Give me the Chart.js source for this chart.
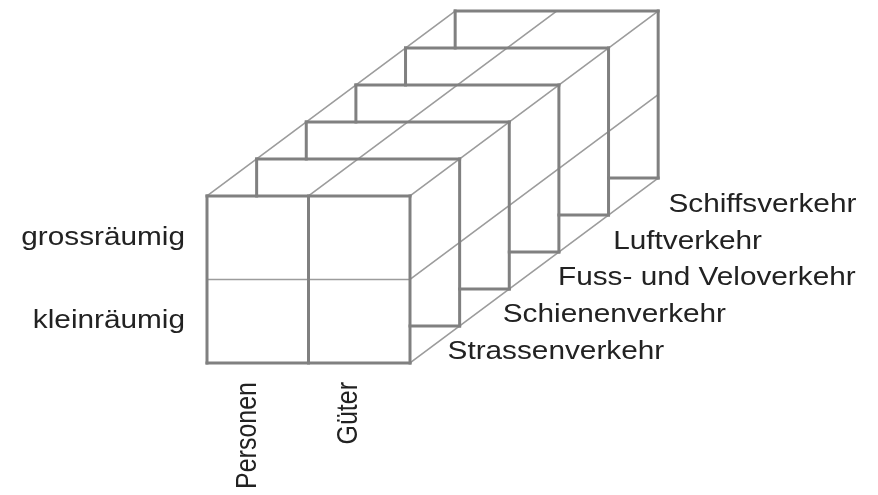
<!DOCTYPE html>
<html>
<head>
<meta charset="utf-8">
<script src="https://cdn.jsdelivr.net/npm/chart.js@4"></script>
<style>
  html, body { margin: 0; padding: 0; background: #ffffff; }
  #wrap { width: 878px; height: 495px; }
</style>
</head>
<body>
<div id="wrap"><canvas id="c" width="878" height="495"></canvas></div>
<script>
// ---- data (the three dimensions of the cube) ----
const rowLabels   = ['grossräumig', 'kleinräumig'];
const colLabels   = ['Personen', 'Güter'];
const layerLabels = ['Strassenverkehr', 'Schienenverkehr', 'Fuss- und Veloverkehr', 'Luftverkehr', 'Schiffsverkehr'];

// ---- layout (cube drawn in cell units) ----
const C = colLabels.length, R = rowLabels.length, N = layerLabels.length;
const DX = 0.489, DY = 0.443;            // depth shift per layer, in cell units
const P = (u, v, k) => ({ x: u + k * DX, y: v + k * DY });

const THICK = { color: '#808080', width: 3 };
const THIN  = { color: '#9c9c9c', width: 1.6 };
const segs = [];
const seg = (a, b, st) => segs.push({ a, b, st });

// front face
seg(P(0, 0, 0), P(C, 0, 0), THICK);
seg(P(C, 0, 0), P(C, R, 0), THICK);
seg(P(C, R, 0), P(0, R, 0), THICK);
seg(P(0, R, 0), P(0, 0, 0), THICK);
for (let c = 1; c < C; c++) seg(P(c, 0, 0), P(c, R, 0), THICK);
for (let r = 1; r < R; r++) seg(P(0, r, 0), P(C, r, 0), THIN);
// layer frames behind
for (let k = 1; k <= N; k++) {
  seg(P(0, R, k), P(C, R, k), THICK);            // top edge
  seg(P(0, R, k), P(0, R - DY, k), THICK);       // visible left stub
  seg(P(C, R, k), P(C, 0, k), THICK);            // right edge
  seg(P(C - DX, 0, k), P(C, 0, k), THICK);       // visible bottom stub
}
// depth edges
for (let c = 0; c <= C; c++) seg(P(c, R, 0), P(c, R, N), THIN);
for (let r = 0; r < R; r++) seg(P(C, r, 0), P(C, r, N), THIN);

const datasets = segs.map(s => ({
  data: [s.a, s.b],
  showLine: true,
  borderColor: s.st.color,
  borderWidth: s.st.width,
  pointRadius: 0,
  fill: false,
  tension: 0,
  borderCapStyle: 'square',
  clip: false
}));

// scale so one cell is ~101.5 x 83.5 px, front face bottom-left at (207,363)
const UX = 101.5, UY = 83.5, OX = 207, OY = 363, W = 878, H = 495;

const FONT = '25px "Liberation Sans", Arial, sans-serif';
const STRETCH = 1.19;
const labelPlugin = {
  id: 'labels',
  afterDraw(chart) {
    const ctx = chart.ctx, xs = chart.scales.x, ys = chart.scales.y;
    const px = u => xs.getPixelForValue(u), py = v => ys.getPixelForValue(v);
    ctx.save();
    ctx.fillStyle = '#222222';
    ctx.font = FONT;
    ctx.textBaseline = 'middle';
    // rows
    rowLabels.forEach((t, i) => {
      ctx.save();
      ctx.translate(px(-0.217), py(R - i - 0.5));
      ctx.scale(STRETCH, 1);
      ctx.textAlign = 'right';
      ctx.fillText(t, 0, 0);
      ctx.restore();
    });
    // layers
    layerLabels.forEach((t, k) => {
      ctx.save();
      ctx.translate(px(C + 0.37 + 0.544 * k), py(0.13 + 0.441 * k));
      ctx.scale(STRETCH, 1);
      ctx.textAlign = 'left';
      ctx.fillText(t, 0, 0);
      ctx.restore();
    });
    // columns (rotated)
    colLabels.forEach((t, c) => {
      ctx.save();
      ctx.translate(px(c + 0.4), py(-0.2275));
      ctx.scale(STRETCH, 1);
      ctx.rotate(-Math.PI / 2);
      ctx.textAlign = 'right';
      ctx.fillText(t, 0, 0);
      ctx.restore();
    });
    ctx.restore();
  }
};

new Chart(document.getElementById('c'), {
  type: 'scatter',
  data: { datasets },
  options: {
    responsive: false,
    animation: false,
    events: [],
    layout: { padding: 0 },
    plugins: { legend: { display: false }, tooltip: { enabled: false } },
    scales: {
      x: { type: 'linear', display: false, min: -OX / UX, max: (W - OX) / UX },
      y: { type: 'linear', display: false, min: -(H - OY) / UY, max: OY / UY }
    }
  },
  plugins: [labelPlugin]
});
</script>
</body>
</html>
